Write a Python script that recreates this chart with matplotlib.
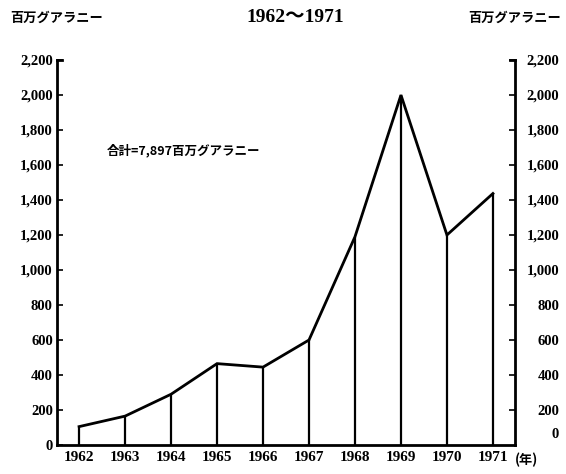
import numpy as np
import matplotlib as mpl
import matplotlib.pyplot as plt
from matplotlib.ticker import FuncFormatter

plt.rcParams['font.family'] = ['Liberation Serif', 'Noto Sans CJK JP', 'DejaVu Sans']
jp = ['Noto Sans CJK JP', 'DejaVu Sans']

# 年次データ（百万グアラニー）
years = [1962, 1963, 1964, 1965, 1966, 1967, 1968, 1969, 1970, 1971]
values = [105, 165, 290, 465, 445, 600, 1190, 2000, 1200, 1437]
yticks = list(range(0, 2201, 200))
total_label = '合計=7,897百万グアラニー'
unit_label = '百万グアラニー'
title = '1962～1971'

fig = plt.figure(figsize=(5.66, 4.74), dpi=100)
fig.patch.set_facecolor('white')
ax = fig.add_axes([57/566, 29/474, (515-57)/566, (445-60)/474])

ax.plot(years, values, color='black', lw=2.0, solid_joinstyle='miter', zorder=3)
ax.vlines(years, 0, values, color='black', lw=1.6, zorder=2)

ax.set_xlim(1961.52, 1971.48)
ax.set_ylim(0, 2200)

for s in ['left', 'right', 'bottom']:
    ax.spines[s].set_linewidth(2.0)
ax.spines['top'].set_visible(False)

fmt = FuncFormatter(lambda v, p: f'{int(v):,}')
ax.set_yticks(yticks)
ax.yaxis.set_major_formatter(fmt)
ax.tick_params(axis='y', direction='in', length=4, width=1.2,
               left=True, right=False, labelsize=10.5, pad=3)
for lab in ax.get_yticklabels():
    lab.set_fontweight('bold')

# 右の目盛（右寄せ）
ax2 = ax.twinx()
ax2.set_ylim(ax.get_ylim())
ax2.set_yticks(yticks[1:])
ax2.yaxis.set_major_formatter(fmt)
ax2.tick_params(axis='y', direction='in', length=4, width=1.2,
                labelsize=10.5, pad=32)
for lab in ax2.get_yticklabels():
    lab.set_fontweight('bold')
    lab.set_horizontalalignment('right')
for s in ax2.spines.values():
    s.set_visible(False)
fig.text(559/566, 1 - 435/474, '0', fontsize=10.5, fontweight='bold',
         ha='right', va='center')

# 上端の角
ax.plot([1961.52, 1961.62], [2200, 2200], color='black', lw=2.0, clip_on=False)
ax.plot([1971.38, 1971.48], [2200, 2200], color='black', lw=2.0, clip_on=False)

ax.set_xticks(years)
ax.set_xticklabels([str(y) for y in years], fontsize=11, fontweight='bold')
ax.tick_params(axis='x', length=0, pad=4)

ax.text(1962.6, 1680, total_label, fontsize=9, fontweight='bold',
        family=jp, ha='left', va='center')

fig.text(295/566, 1 - 18/474, title, fontsize=14, fontweight='bold',
         ha='center', va='center')
fig.text(10/566, 1 - 18/474, unit_label, fontsize=9.5, fontweight='bold',
         family=jp, ha='left', va='center', style='italic')
fig.text(468/566, 1 - 18/474, unit_label, fontsize=9.5, fontweight='bold',
         family=jp, ha='left', va='center', style='italic')
fig.text(515/566, 1 - 460/474, '(年)', fontsize=9.5, fontweight='bold',
         family=jp, ha='left', va='center')

fig.savefig('out.png', dpi=100, facecolor='white')
